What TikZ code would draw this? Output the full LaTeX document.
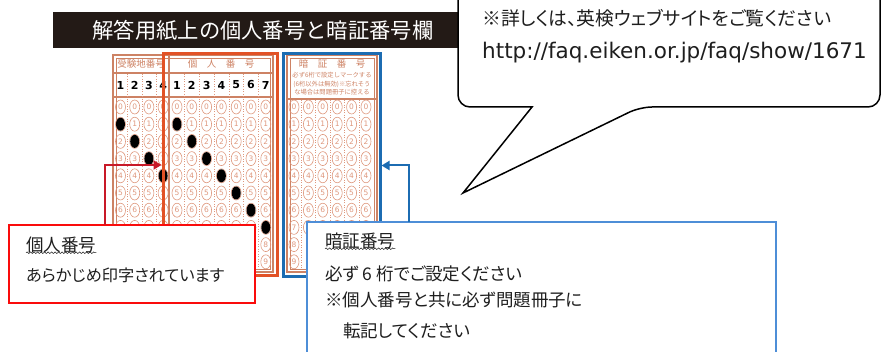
\documentclass[tikz,border=0pt]{standalone}
\usepackage{fontspec}
\newfontfamily\jp[RawFeature=+palt]{Noto Sans CJK JP}
\newfontfamily\jpmono{Noto Sans CJK JP}
\newfontfamily\lat{DejaVu Sans}
\usetikzlibrary{arrows.meta,shapes.geometric,decorations.pathmorphing}
\definecolor{sheet}{RGB}{205,130,100}
\definecolor{bubble}{RGB}{222,152,126}
\definecolor{kojin}{RGB}{226,82,38}
\definecolor{ansho}{RGB}{28,108,178}
\definecolor{notered}{RGB}{250,12,12}
\definecolor{arrowred}{RGB}{200,25,40}
\definecolor{noteblue}{RGB}{78,142,215}
\definecolor{titlebar}{RGB}{35,26,22}
\definecolor{ink}{RGB}{30,30,30}
\begin{document}
\begin{tikzpicture}[x=1pt,y=-1pt,
    title/.style={text=white,inner sep=0,font=\jpmono\fontsize{21.3}{25}\selectfont},
    grouphead/.style={text=sheet,inner sep=0,font=\jpmono\fontsize{9.5}{11}\selectfont},
    tinytext/.style={text=sheet,inner sep=0,align=center,font=\jpmono\fontsize{6.3}{8.4}\selectfont},
    colnum/.style={inner sep=0,font=\lat\bfseries\fontsize{11}{12}\selectfont},
    bub/.style={ellipse,draw=bubble,line width=0.6,minimum width=10,minimum height=14,
      inner sep=0,text=bubble,font=\lat\fontsize{7.5}{7.5}\selectfont},
    inked/.style={ellipse,fill=black,minimum width=9,minimum height=13,inner sep=0},
    frameline/.style={draw=sheet,line width=1.4},
    colsep/.style={draw=bubble,line width=0.5,dotted},
    highlight/.style={line width=3,inner sep=0},
    notebox/.style={fill=white,line width=2,inner sep=0},
    notetext/.style={anchor=west,inner sep=0,text=ink,font=\jp\fontsize{17.5}{20}\selectfont},
    wavy/.style={draw=ink,line width=0.5,decorate,decoration={snake,amplitude=0.8,segment length=3.5}},
    pointer/.style={line width=2,-{Triangle[length=8,width=9]}}]
  \useasboundingbox (0,0) rectangle (884,352);
  \clip (0,0) rectangle (884,352);

  \fill[titlebar] (53,12) rectangle (470,48);
  \node[title] (title) at (263,30) {解答用紙上の個人番号と暗証番号欄};

  \draw[frameline] (113,55) rectangle (273,272);
  \draw[draw=sheet,line width=0.5] (116,58) rectangle (270,269);
  \draw[frameline] (169,55) -- (169,272);
  \draw[frameline] (113,73) -- (273,73);
  \draw[frameline] (113,97) -- (273,97);
  \draw[frameline] (287,55) rectangle (377,272);
  \draw[draw=sheet,line width=0.5] (290,58) rectangle (374,269);
  \draw[frameline] (287,99) -- (377,99);
  \foreach \x in {127.6,141.8,156}
    \draw[colsep] (\x,74) -- (\x,268);
  \foreach \x in {184.4,199.2,214,228.8,243.6,258.4}
    \draw[colsep] (\x,74) -- (\x,268);
  \foreach \x in {301.2,315.6,330,344.4,358.8}
    \draw[colsep] (\x,100) -- (\x,268);

  \node[grouphead] (jukenlabel) at (141,64) {受験地番号};
  \node[grouphead] (kojinlabel) at (221,64) {個　人　番　号};
  \node[grouphead] (ansholabel) at (332,64) {暗　証　番　号};
  \node[tinytext] (anshorule) at (332,84) {必ず6桁で設定しマークする\\(6桁以外は無効)※忘れそう\\な場合は問題冊子に控える};

  \foreach \c [count=\n] in {0,...,3}{
    \node[colnum] (jn\c) at (120.5+14.2*\c,85) {\n};
    \foreach \r in {0,...,7}
      \node[bub] (j-\c-\r) at (120.5+14.2*\c,107+17.2*\r) {\r};
  }
  \foreach \c [count=\n] in {0,...,6}{
    \node[colnum] (kn\c) at (177+14.8*\c,85) {\n};
    \pgfmathtruncatemacro\last{\c<6 ? 7 : 9}
    \foreach \r in {0,...,\last}
      \node[bub] (k-\c-\r) at (177+14.8*\c,107+17.2*\r) {\r};
  }
  \foreach \c in {0,...,5}{
    \pgfmathtruncatemacro\last{\c>0 ? 7 : 9}
    \foreach \r in {0,...,\last}
      \node[bub] (a-\c-\r) at (294+14.4*\c,107+17.2*\r) {\r};
  }
  \foreach \c/\r in {0/1,1/2,2/3,3/4}
    \node[inked] (jm\c) at (j-\c-\r) {};
  \foreach \c/\r in {0/1,1/2,2/3,3/4,4/5,5/6,6/7}
    \node[inked] (km\c) at (k-\c-\r) {};

  \node[highlight,draw=kojin,minimum width=114,minimum height=222] (kojinbox) at (220,165) {};
  \node[highlight,draw=ansho,minimum width=97,minimum height=223] (anshobox) at (331.5,165.5) {};

  \node[notebox,draw=notered,minimum width=246,minimum height=78] (kojinnote) at (132,264) {};
  \node[notetext] (kojinhead) at (26,244.5) {個人番号};
  \node[notetext,font=\jp\fontsize{16.2}{19}\selectfont] (kojintext) at (26,275.5) {あらかじめ印字されています};
  \draw[wavy] (kojinhead.south west) -- (kojinhead.south east);

  \node[notebox,draw=noteblue,minimum width=469,minimum height=160] (anshonote) at (541.5,302) {};
  \node[notetext] (anshohead) at (325,240.5) {暗証番号};
  \node[notetext] (anshotext1) at (325,273.5) {必ず 6 桁でご設定ください};
  \node[notetext] (anshotext2) at (325,300) {※個人番号と共に必ず問題冊子に};
  \node[notetext] (anshotext3) at (343,330.5) {転記してください};
  \draw[wavy] (anshohead.south west) -- (anshohead.south east);

  \coordinate (kojinfoot) at (105,225);
  \coordinate (anshofoot) at (409,222);
  \draw[pointer,arrowred] (kojinfoot) |- (kojinbox.west);
  \draw[pointer,ansho] (anshofoot) |- (anshobox.east);

  \draw[line width=1.5,fill=white,rounded corners=12] (532,107) -- (458,107) -- (458,-20)
    -- (880,-20) -- (880,107) -- (640,107) [sharp corners] -- (463,193) -- cycle;
  \node[notetext,font=\jp\fontsize{18.8}{22}\selectfont] (webnote) at (482,18) {※詳しくは、英検ウェブサイトをご覧ください};
  \node[notetext,font=\lat\fontsize{21.5}{24}\selectfont] (weburl) at (482,52.5) {http://faq.eiken.or.jp/faq/show/1671};
\end{tikzpicture}
\end{document}
